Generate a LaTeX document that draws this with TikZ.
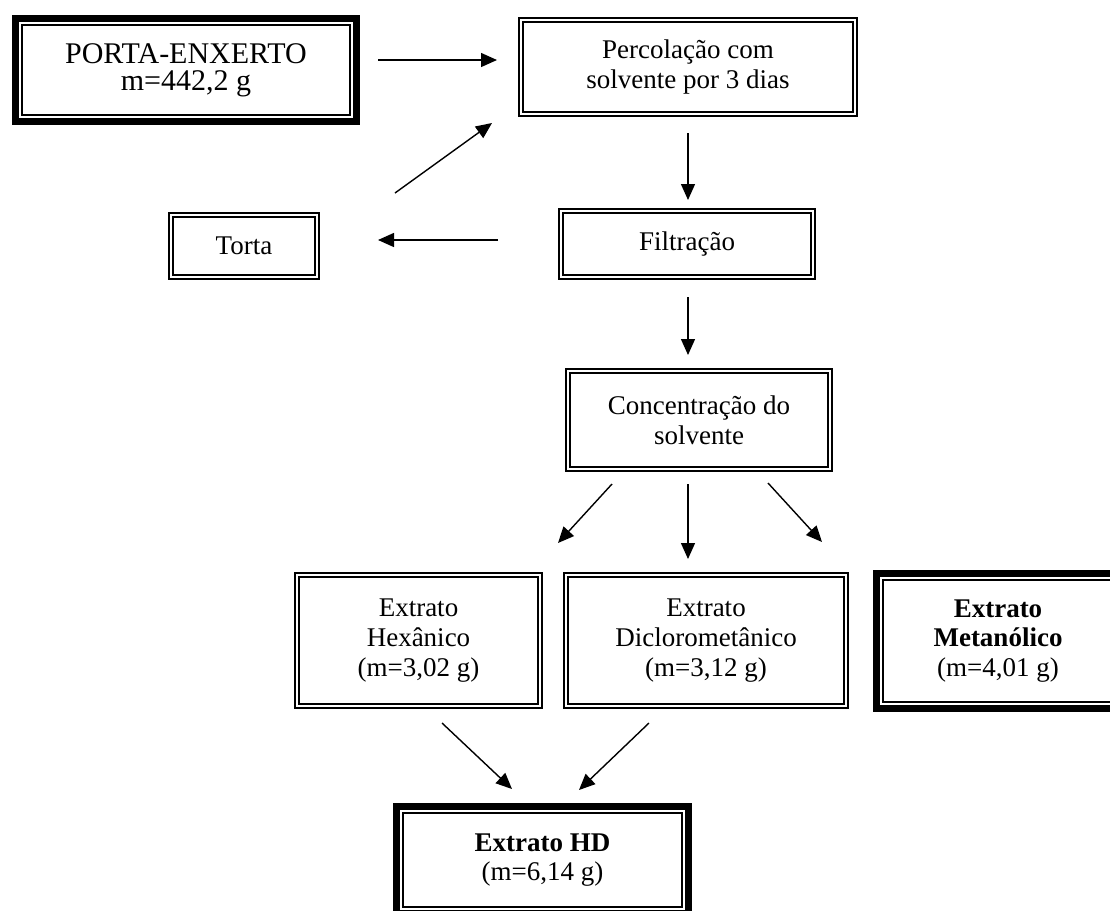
\documentclass[tikz,border=0pt]{standalone}
\usepackage{fontspec}
\setmainfont{Liberation Serif}
\usetikzlibrary{arrows.meta,calc}

\tikzset{
  base/.style={align=center, inner sep=0pt, outer sep=0pt, font=\fontsize{13.5}{14.8}\selectfont},
  dbox/.style={base, draw, line width=0.9pt, double=white, double distance=1.1pt},
  tbox/.style={base, fill=white, draw, line width=0.8pt,
    preaction={draw, line width=9.8pt}, preaction={draw=white, line width=3.2pt}},
  arr/.style={-{Triangle[length=8pt,width=7pt]}, line width=0.7pt}
}

\begin{document}
\begin{tikzpicture}[x=0.5pt, y=-0.5pt]

  \useasboundingbox (0,0) rectangle (1110,911);

  \node[tbox, minimum width=164pt, minimum height=45pt, font=\fontsize{15}{13.5}\selectfont] (porta) at (186,70) {PORTA-ENXERTO\\m=442,2 g};
  \node[dbox, minimum width=167pt, minimum height=47pt] (perc) at (688,67) {Percolação com\\solvente por 3 dias};
  \node[dbox, minimum width=73pt, minimum height=31pt] (torta) at (244,246) {Torta};
  \node[dbox, minimum width=126pt, minimum height=33pt] (filt) at (687,244) {Filtração};
  \node[dbox, minimum width=131pt, minimum height=49pt] (conc) at (699,420) {Concentração do\\solvente};
  \node[dbox, minimum width=121.5pt, minimum height=65.5pt] (hex) at (418.5,640.5) {Extrato\\Hexânico\\(m=3,02 g)};
  \node[dbox, minimum width=140pt, minimum height=65.5pt] (dic) at (706,640.5) {Extrato\\Diclorometânico\\(m=3,12 g)};
  \node[tbox, minimum width=115pt, minimum height=61pt] (met) at (998,641) {\textbf{Extrato}\\\textbf{Metanólico}\\(m=4,01 g)};
  \node[tbox, minimum width=139.5pt, minimum height=47pt] (hd) at (542.5,860) {\textbf{Extrato HD}\\(m=6,14 g)};

  \draw[arr] ($(porta.east)+(28,-10)$) -- ($(perc.west)+(-24,-7)$);
  \draw[arr] ($(perc.south)+(0,19)$) -- ($(filt.north)+(1,-11)$);
  \draw[arr] ($(filt.west)+(-63,-4)$) -- ($(torta.east)+(61,-6)$);
  \draw[arr] ($(torta.north east)+(78,-22)$) -- ($(perc.south west)+(-29,9)$);
  \draw[arr] ($(filt.south)+(1,20)$) -- ($(conc.north)+(-11,-16)$);
  \draw[arr] ($(conc.south)+(-87,15)$) -- ($(hex.north east)+(18,-32)$);
  \draw[arr] ($(conc.south)+(-11,15)$) -- ($(dic.north)+(-18,-16)$);
  \draw[arr] ($(conc.south)+(69,14)$) -- ($(met.north west)+(-61,-38)$);
  \draw[arr] ($(hex.south)+(23.5,17)$) -- ($(hd.north)+(-30.5,-24)$);
  \draw[arr] ($(dic.south)+(-57,17)$) -- ($(hd.north)+(36.5,-23)$);

\end{tikzpicture}
\end{document}
